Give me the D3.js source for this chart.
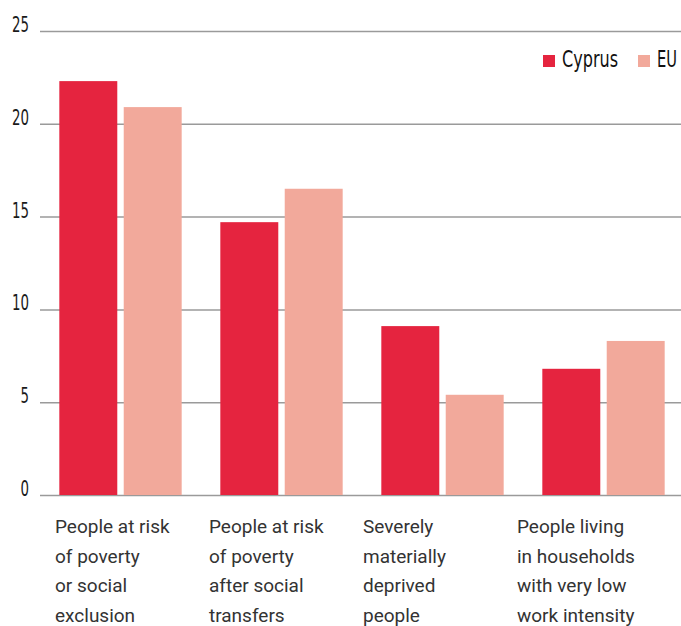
<!DOCTYPE html>
<html>
<head>
<meta charset="utf-8">
<script src="https://cdn.jsdelivr.net/npm/d3@7"></script>
<style>
  html, body { margin: 0; padding: 0; background: #fff; }
  svg { display: block; }
</style>
</head>
<body>
<svg id="chart" width="681" height="626"></svg>
<script>
// Indicator groups, each label split into its printed lines
const categories = [
  ["People at risk", "of poverty", "or social", "exclusion"],
  ["People at risk", "of poverty", "after social", "transfers"],
  ["Severely", "materially", "deprived", "people"],
  ["People living", "in households", "with very low", "work intensity"]
];
const seriesNames = ["Cyprus", "EU"];
const cyprusValues = [22.3, 14.7, 9.1, 6.8];
const euValues = [20.9, 16.5, 5.4, 8.3];
const yTicks = [0, 5, 10, 15, 20, 25];

const colors = { Cyprus: "#e5243f", EU: "#f2a99b" };
const narrow = "'DejaVu Sans Condensed', 'Liberation Sans Narrow', sans-serif";
const labelFont = "Roboto, 'Open Sans', sans-serif";

const svg = d3.select("#chart");
const plotLeft = 40, plotRight = 681, plotTop = 31, plotBottom = 495;

const rows = categories.map((c, i) => ({
  key: i, lines: c,
  values: [{ s: "Cyprus", v: cyprusValues[i] }, { s: "EU", v: euValues[i] }]
}));

const y = d3.scaleLinear().domain([0, 25]).range([plotBottom, plotTop]);
const x0 = d3.scaleBand().domain(rows.map(d => d.key))
  .range([plotLeft, 684]).paddingInner(0.24).paddingOuter(0.12);
const x1 = d3.scaleBand().domain(seriesNames)
  .range([0, x0.bandwidth()]).paddingInner(0.1).paddingOuter(0);
const xLabel = d3.scalePoint().domain(rows.map(d => d.key)).range([55, 517]);

// Gridlines and y tick labels (narrow numerals)
const yAxis = d3.axisLeft(y).tickValues(yTicks).tickSize(-(plotRight - plotLeft)).tickFormat(d3.format("d"));
const ga = svg.append("g").attr("transform", `translate(${plotLeft},0)`).call(yAxis);
ga.select(".domain").remove();
ga.selectAll(".tick line").attr("stroke", "#9a9a9a").attr("stroke-width", 1.5);
ga.selectAll(".tick text")
  .attr("x", -11).attr("dy", "0.02em")
  .attr("fill", "#1a1a1a")
  .attr("textLength", d => String(d).length * 8.5)
  .attr("lengthAdjust", "spacingAndGlyphs")
  .style("font-family", narrow).style("font-size", "21px");

// Bars
const groups = svg.append("g").selectAll("g").data(rows).join("g")
  .attr("transform", d => `translate(${x0(d.key)},0)`);
groups.selectAll("rect").data(d => d.values).join("rect")
  .attr("x", d => x1(d.s))
  .attr("width", x1.bandwidth())
  .attr("y", d => y(d.v))
  .attr("height", d => y(0) - y(d.v))
  .attr("fill", d => colors[d.s]);

// Category labels beneath the axis
const lab = svg.append("g").selectAll("text").data(rows).join("text")
  .attr("x", d => xLabel(d.key))
  .attr("y", 533)
  .attr("fill", "#333")
  .style("font-family", labelFont).style("font-size", "19px");
lab.selectAll("tspan").data(d => d.lines.map(l => ({ l, x: xLabel(d.key) }))).join("tspan")
  .attr("x", d => d.x)
  .attr("dy", (d, i) => i === 0 ? 0 : 29.5)
  .text(d => d.l);

// Legend
const legendX = [543, 638];
const legendW = { Cyprus: 56, EU: 20 };
const lg = svg.append("g").selectAll("g").data(seriesNames).join("g")
  .attr("transform", (d, i) => `translate(${legendX[i]},55)`);
lg.append("rect").attr("width", 12).attr("height", 12).attr("fill", d => colors[d]);
lg.append("text").attr("x", 19).attr("y", 12)
  .attr("fill", "#111")
  .attr("textLength", d => legendW[d])
  .attr("lengthAdjust", "spacingAndGlyphs")
  .style("font-family", narrow).style("font-size", "23px")
  .text(d => d);
</script>
</body>
</html>
